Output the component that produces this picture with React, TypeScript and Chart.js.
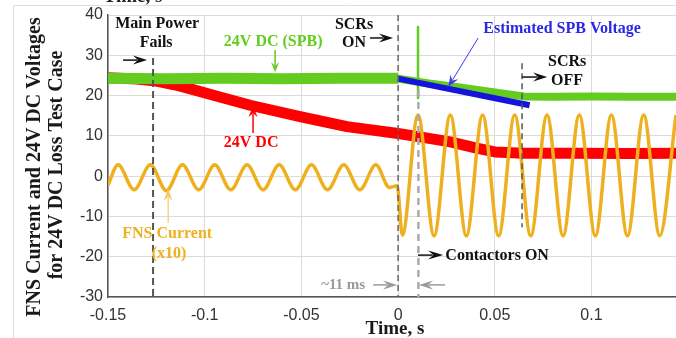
import React, { useEffect, useRef } from "react";
import { Chart, registerables } from "chart.js";

Chart.register(...registerables);

// Axis ranges and ticks
const X_MIN = -0.15;
const X_MAX = 0.1437;
const Y_MIN = -30;
const Y_MAX = 40;
const xTickValues = [-0.15, -0.1, -0.05, 0, 0.05, 0.1];
const xTickLabels = ["-0.15", "-0.1", "-0.05", "0", "0.05", "0.1"];
const yTickValues = [-30, -20, -10, 0, 10, 20, 30, 40];
const yTickLabels = ["-30", "-20", "-10", "0", "10", "20", "30", "40"];

// 24V DC (SPB) supply voltage, before and after the SCRs turn on
const spbTimeBefore = [-0.15, -0.12, -0.09, -0.06, -0.03, 0];
const spbVoltsBefore = [24.3, 24.2, 24.3, 24.2, 24.3, 24.3];
const spbTimeAfter = [0, 0.016, 0.032, 0.05, 0.065, 0.08, 0.1, 0.12, 0.1437];
const spbVoltsAfter = [24.2, 23.0, 22.0, 20.8, 19.8, 19.7, 19.8, 19.7, 19.7];

// Switching transient on the SPB supply when the contactors close
const spikeTime = [0.0103, 0.0103];
const spikeVolts = [37.0, 19.4];

// Estimated SPB voltage while the SCRs conduct
const estTime = [0, 0.068];
const estVolts = [24.2, 17.6];

// 24V DC supply voltage
const dcTime = [-0.15, -0.135, -0.125, -0.113, -0.095, -0.0765, -0.0507, -0.0264, 0, 0.012, 0.027, 0.04, 0.05, 0.065, 0.09, 0.12, 0.1437];
const dcVolts = [24.4, 24.1, 23.6, 22.4, 20.0, 17.6, 14.8, 12.3, 10.6, 9.7, 8.5, 7.0, 6.0, 5.7, 5.7, 5.6, 5.7];

// FNS current (x10), sampled at its peaks and troughs
const fnsTime = [
  -0.15, -0.1448, -0.1365, -0.1281, -0.1198, -0.1115, -0.1031, -0.0948, -0.0865, -0.0781,
  -0.0698, -0.0615, -0.0531, -0.0448, -0.0365, -0.0281, -0.0198, -0.0115, -0.0045, -0.0005,
  0.0022, 0.0103, 0.0186, 0.027, 0.0353, 0.0437, 0.052, 0.0603, 0.0686, 0.077,
  0.0853, 0.0937, 0.102, 0.1103, 0.1186, 0.127, 0.1353, 0.1437,
];
const fnsAmps = [
  -2.2, 2.8, -3.4, 2.8, -3.6, 2.8, -3.4, 2.8, -3.4, 2.8,
  -3.4, 2.8, -3.4, 2.8, -3.4, 2.8, -3.4, 2.8, -2.8, -2.4,
  -14.6, 15.2, -14.8, 15.2, -14.8, 15.2, -14.8, 15.2, -14.8, 15.2,
  -14.8, 15.2, -14.8, 15.2, -14.8, 15.2, -14.8, 15.2,
];

const GREEN = "#63CC1E";
const RED = "#FF0000";
const BLUE = "#1414DC";
const ORANGE = "#EEB01E";
const SERIF = "'Liberation Serif', 'Times New Roman', serif";
const SANS = "'Liberation Sans', Arial, sans-serif";

const pts = (ts: number[], vs: number[]) => ts.map((t, i) => ({ x: t, y: vs[i] }));

function drawText(ctx: CanvasRenderingContext2D, s: string, x: number, y: number, font: string, color: string) {
  ctx.save();
  ctx.font = font;
  ctx.fillStyle = color;
  ctx.textAlign = "center";
  ctx.textBaseline = "middle";
  ctx.fillText(s, x, y);
  ctx.restore();
}

function drawArrow(
  ctx: CanvasRenderingContext2D,
  x1: number, y1: number, x2: number, y2: number,
  color: string, lw: number, hl: number, hw: number
) {
  const dx = x2 - x1, dy = y2 - y1;
  const len = Math.hypot(dx, dy) || 1;
  const ux = dx / len, uy = dy / len;
  const nx = -uy, ny = ux;
  const bx = x2 - ux * hl, by = y2 - uy * hl;
  ctx.save();
  ctx.strokeStyle = color;
  ctx.fillStyle = color;
  ctx.lineWidth = lw;
  ctx.beginPath();
  ctx.moveTo(x1, y1);
  ctx.lineTo(bx + ux * hl * 0.3, by + uy * hl * 0.3);
  ctx.stroke();
  ctx.beginPath();
  ctx.moveTo(x2, y2);
  ctx.lineTo(bx + nx * hw, by + ny * hw);
  ctx.lineTo(bx + ux * hl * 0.35, by + uy * hl * 0.35);
  ctx.lineTo(bx - nx * hw, by - ny * hw);
  ctx.closePath();
  ctx.fill();
  ctx.restore();
}

function drawDashed(
  ctx: CanvasRenderingContext2D,
  x: number, y1: number, y2: number,
  color: string, lw: number, dash: number[]
) {
  ctx.save();
  ctx.strokeStyle = color;
  ctx.lineWidth = lw;
  ctx.setLineDash(dash);
  ctx.beginPath();
  ctx.moveTo(x, y1);
  ctx.lineTo(x, y2);
  ctx.stroke();
  ctx.restore();
}

const annotations = {
  id: "annotations",
  beforeDraw(chart: any) {
    const ctx: CanvasRenderingContext2D = chart.ctx;
    ctx.save();
    ctx.fillStyle = "#ffffff";
    ctx.fillRect(0, 0, chart.width, chart.height);
    // light outer frame
    ctx.strokeStyle = "#dedede";
    ctx.lineWidth = 1;
    ctx.beginPath();
    ctx.moveTo(13.5, chart.height);
    ctx.lineTo(13.5, 5.5);
    ctx.lineTo(chart.width, 5.5);
    ctx.stroke();
    ctx.restore();
    // clipped heading at the very top
    ctx.save();
    ctx.font = `bold 19px ${SERIF}`;
    ctx.fillStyle = "#222";
    ctx.textAlign = "center";
    ctx.textBaseline = "alphabetic";
    ctx.fillText("Time, s", 133, 2);
    ctx.restore();
  },
  afterDatasetsDraw(chart: any) {
    const ctx: CanvasRenderingContext2D = chart.ctx;
    const px = (t: number) => chart.scales.x.getPixelForValue(t);
    const py = (v: number) => chart.scales.y.getPixelForValue(v);
    const bold16 = `bold 16px ${SERIF}`;

    // event markers
    drawDashed(ctx, px(-0.1267), py(29.3), py(-30), "#555", 2, [7, 4]);
    drawDashed(ctx, px(0), py(40), py(-30), "#666", 1.5, [6, 4]);
    drawDashed(ctx, px(0.0105), py(21.4), py(-30), "#aaa", 2.5, [7, 5]);
    drawDashed(ctx, px(0.0641), py(28.0), py(-12.7), "#555", 1.5, [6, 4]);

    // Main Power Fails
    drawText(ctx, "Main Power", px(-0.1246), py(37.7), bold16, "#111");
    drawText(ctx, "Fails", px(-0.1251), py(33.0), bold16, "#111");
    drawArrow(ctx, px(-0.1422), py(28.8), px(-0.1298), py(28.8), "#111", 1.5, 14, 4.5);

    // 24V DC (SPB)
    drawText(ctx, "24V DC (SPB)", px(-0.0646), py(33.3), bold16, GREEN);
    drawArrow(ctx, px(-0.0636), py(31.3), px(-0.0636), py(25.8), GREEN, 1.5, 10, 4);

    // 24V DC
    drawText(ctx, "24V DC", px(-0.076), py(8.2), bold16, RED);
    drawArrow(ctx, px(-0.075), py(10.7), px(-0.075), py(17.4), RED, 1.5, 11, 4.5);

    // SCRs ON
    drawText(ctx, "SCRs", px(-0.0228), py(37.5), bold16, "#111");
    drawText(ctx, "ON", px(-0.0228), py(33.0), bold16, "#111");
    drawArrow(ctx, px(-0.0145), py(34.3), px(-0.0026), py(34.3), "#111", 1.5, 14, 4.5);

    // Estimated SPB Voltage
    drawText(ctx, "Estimated SPB Voltage", px(0.0848), py(36.5), bold16, "#2828E6");
    drawArrow(ctx, px(0.0414), py(34.3), px(0.0259), py(22.1), "#3c3cf0", 1, 12, 4.5);

    // SCRs OFF
    drawText(ctx, "SCRs", px(0.0874), py(28.3), bold16, "#111");
    drawText(ctx, "OFF", px(0.0874), py(23.6), bold16, "#111");
    drawArrow(ctx, px(0.0641), py(24.6), px(0.0771), py(24.6), "#111", 1.5, 14, 4.5);

    // FNS Current (x10)
    drawText(ctx, "FNS Current", px(-0.1194), py(-14.4), bold16, ORANGE);
    drawText(ctx, "(x10)", px(-0.1184), py(-19.3), bold16, ORANGE);
    drawArrow(ctx, px(-0.1189), py(-11.6), px(-0.1189), py(-3.2), "#f3c868", 1.2, 12, 4.5);

    // Contactors ON
    drawText(ctx, "Contactors ON", px(0.0512), py(-19.8), bold16, "#111");
    drawArrow(ctx, px(0.0103), py(-19.6), px(0.0233), py(-19.6), "#111", 1.5, 15, 4.5);

    // ~11 ms
    drawText(ctx, "~11 ms", px(-0.0284), py(-27.0), `bold 15px ${SERIF}`, "#9a9a9a");
    drawArrow(ctx, px(-0.0129), py(-27.0), px(-0.0005), py(-27.0), "#9a9a9a", 1.5, 14, 4.5);
    drawArrow(ctx, px(0.0243), py(-27.0), px(0.0108), py(-27.0), "#9a9a9a", 1.5, 14, 4.5);
  },
  afterDraw(chart: any) {
    const ctx: CanvasRenderingContext2D = chart.ctx;
    // y-axis title, two rotated lines
    ctx.save();
    ctx.font = `bold 20px ${SERIF}`;
    ctx.fillStyle = "#1a1a1a";
    ctx.textAlign = "center";
    ctx.textBaseline = "middle";
    ctx.translate(35, 167);
    ctx.rotate(-Math.PI / 2);
    ctx.fillText("FNS Current and 24V DC Voltages", 0, 0);
    ctx.restore();
    ctx.save();
    ctx.font = `bold 20px ${SERIF}`;
    ctx.fillStyle = "#1a1a1a";
    ctx.textAlign = "center";
    ctx.textBaseline = "middle";
    ctx.translate(57, 165);
    ctx.rotate(-Math.PI / 2);
    ctx.fillText("for 24V DC Loss Test Case", 0, 0);
    ctx.restore();
    // x-axis title
    drawText(ctx, "Time, s", 395, 329, `bold 19px ${SERIF}`, "#1a1a1a");
  },
};

export default function App() {
  const canvasRef = useRef<HTMLCanvasElement>(null);

  useEffect(() => {
    const canvas = canvasRef.current;
    if (!canvas) return;
    const common = { pointRadius: 0, fill: false, tension: 0, clip: 0, borderJoinStyle: "round" as const };
    const chart = new Chart(canvas, {
      type: "line",
      data: {
        datasets: [
          { label: "Estimated SPB Voltage", data: pts(estTime, estVolts), borderColor: BLUE, borderWidth: 6, ...common, borderJoinStyle: "miter" },
          { label: "SPB transient", data: pts(spikeTime, spikeVolts), borderColor: GREEN, borderWidth: 2.5, ...common },
          { label: "24V DC (SPB)", data: pts(spbTimeBefore, spbVoltsBefore), borderColor: GREEN, borderWidth: 11, ...common },
          { label: "24V DC (SPB) after", data: pts(spbTimeAfter, spbVoltsAfter), borderColor: GREEN, borderWidth: 8, ...common },
          { label: "FNS Current (x10)", data: pts(fnsTime, fnsAmps), borderColor: ORANGE, borderWidth: 3.5, cubicInterpolationMode: "monotone", pointRadius: 0, fill: false, clip: 0 },
          { label: "24V DC", data: pts(dcTime, dcVolts), borderColor: RED, borderWidth: 11, ...common },
        ],
      },
      options: {
        animation: false,
        responsive: false,
        devicePixelRatio: 1,
        layout: { padding: { top: 15, right: 0, left: 0, bottom: 0 } },
        plugins: { legend: { display: false }, tooltip: { enabled: false } },
        scales: {
          x: {
            type: "linear",
            min: X_MIN,
            max: X_MAX,
            afterBuildTicks: (scale: any) => {
              scale.ticks = xTickValues.map((v) => ({ value: v }));
            },
            afterFit: (scale: any) => {
              scale.height = 41;
            },
            ticks: {
              callback: (_v: any, i: number) => xTickLabels[i],
              font: { family: SANS, size: 16 },
              color: "#333",
              padding: 9,
              maxRotation: 0,
              autoSkip: false,
            },
            grid: { color: "#dcdcdc", lineWidth: 1, drawTicks: false },
            border: { color: "#555", width: 1.5 },
          },
          y: {
            type: "linear",
            min: Y_MIN,
            max: Y_MAX,
            afterBuildTicks: (scale: any) => {
              scale.ticks = yTickValues.map((v) => ({ value: v }));
            },
            afterFit: (scale: any) => {
              scale.width = 108;
            },
            ticks: {
              callback: (_v: any, i: number) => yTickLabels[i],
              font: { family: SANS, size: 16 },
              color: "#333",
              padding: 5,
              autoSkip: false,
            },
            grid: { color: "#dcdcdc", lineWidth: 1, drawTicks: false },
            border: { color: "#555", width: 1.5 },
          },
        },
      },
      plugins: [annotations],
    } as any);
    return () => chart.destroy();
  }, []);

  return (
    <div style={{ position: "fixed", left: 0, top: 0, width: 676, height: 338, background: "#fff" }}>
      <canvas ref={canvasRef} width={676} height={338} style={{ display: "block" }} />
    </div>
  );
}
